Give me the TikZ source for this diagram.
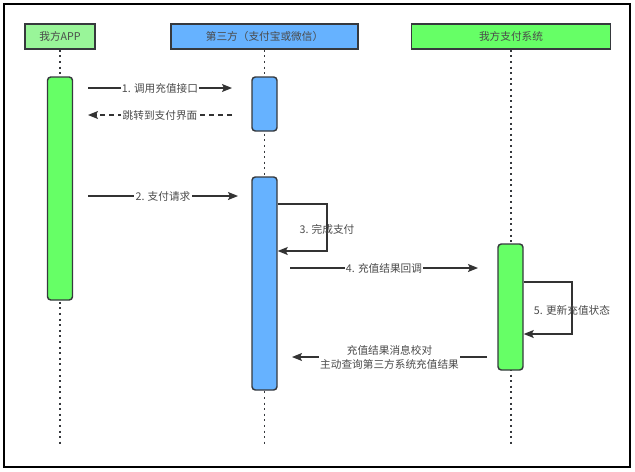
\documentclass[tikz,border=0pt]{standalone}
\usepackage{fontspec}
\setmainfont{Noto Sans CJK SC}
\usetikzlibrary{arrows.meta,calc}
\definecolor{appgreen}{HTML}{99F599}
\definecolor{actgreen}{HTML}{66FF66}
\definecolor{actblue}{HTML}{66B2FF}
\definecolor{edgegray}{HTML}{36393D}
\definecolor{txtgray}{HTML}{333333}
\definecolor{lblgray}{HTML}{4A4A4A}
\tikzset{
	head/.style={draw=edgegray, line width=1.1pt, minimum height=18.75pt, inner sep=0pt, text=lblgray, font=\fontsize{8pt}{9.5pt}\selectfont},
	bar/.style={draw=edgegray, line width=1.1pt, rounded corners=2.5pt, minimum width=18.75pt, inner sep=0pt},
	life/.style={draw=edgegray, line width=1.4pt, dash pattern=on 1.6pt off 2.6pt},
	msg/.style={draw=txtgray, line width=0.9pt, -{Stealth[length=7.5pt, width=6pt, inset=1.5pt]}},
	lbl/.style={fill=white, inner sep=1pt, text=lblgray, font=\fontsize{8pt}{10.5pt}\selectfont, align=center},
	tag/.style={inner sep=1pt, text=lblgray, font=\fontsize{8pt}{10.5pt}\selectfont}
}
\begin{document}
\begin{tikzpicture}[x=0.75pt, y=-0.75pt]
			\useasboundingbox (0,0) rectangle (635,471);
			\draw[line width=1.2pt] (4,4) rectangle (630,467);
		
			\node[head, fill=appgreen, minimum width=52.5pt] (app) at (60,36.5) {我方APP};
			\node[head, fill=actblue, minimum width=140.25pt] (third) at (264.5,36.5) {第三方（支付宝或微信）};
			\node[head, fill=actgreen, minimum width=149.25pt] (sys) at (511,36.5) {我方支付系统};
			\coordinate (end) at (0,447);
	
			\foreach \n in {app,third,sys} {
				\draw[life] (\n.south) -- (\n.south |- end);
			}
	
			\node[bar, fill=actgreen, minimum height=167.25pt] (appbar) at (60,188.5) {};
			\node[bar, fill=actblue, minimum height=40.5pt] (tbar1) at (264.5,104) {};
			\node[bar, fill=actblue, minimum height=159.75pt] (tbar2) at (264.5,283.5) {};
			\node[bar, fill=actgreen, minimum height=94.5pt] (sbar) at (510.5,307) {};
	
			\coordinate (s1) at (88,88);  \coordinate (e1) at (232,88);
			\coordinate (s2) at (232,115); \coordinate (e2) at (88,115);
			\coordinate (s3) at (88,196); \coordinate (e3) at (238,196);
			\coordinate (s4) at (290,268); \coordinate (e4) at (478,268);
			\coordinate (s6) at (487,357); \coordinate (e6) at (292,357);
			\coordinate (l3a) at (327,204); \coordinate (l3b) at (327,251);
			\coordinate (l5a) at (572,282); \coordinate (l5b) at (572,334);
	
			\path (s1) edge[msg] node[lbl] {1. 调用充值接口} (e1);
			\path (s2) edge[msg, dash pattern=on 3.8pt off 3pt] node[lbl] {跳转到支付界面} (e2);
			\path (s3) edge[msg] node[lbl] {2. 支付请求} (e3);
			\path (s4) edge[msg] node[lbl] {4. 充值结果回调} (e4);
			\path (s6) edge[msg] node[lbl] {充值结果消息校对\\主动查询第三方系统充值结果} (e6);
	
			\draw[msg] (tbar2.east |- l3a) -- (l3a) -- (l3b) -- (tbar2.east |- l3b);
			\node[tag] (t3) at ($(l3a)!0.55!(l3b)$) {3. 完成支付};
			\draw[msg] (sbar.east |- l5a) -- (l5a) -- (l5b) -- (sbar.east |- l5b);
			\node[tag] (t5) at ($(l5a)!0.55!(l5b)$) {5. 更新充值状态};
		\end{tikzpicture}
\end{document}
